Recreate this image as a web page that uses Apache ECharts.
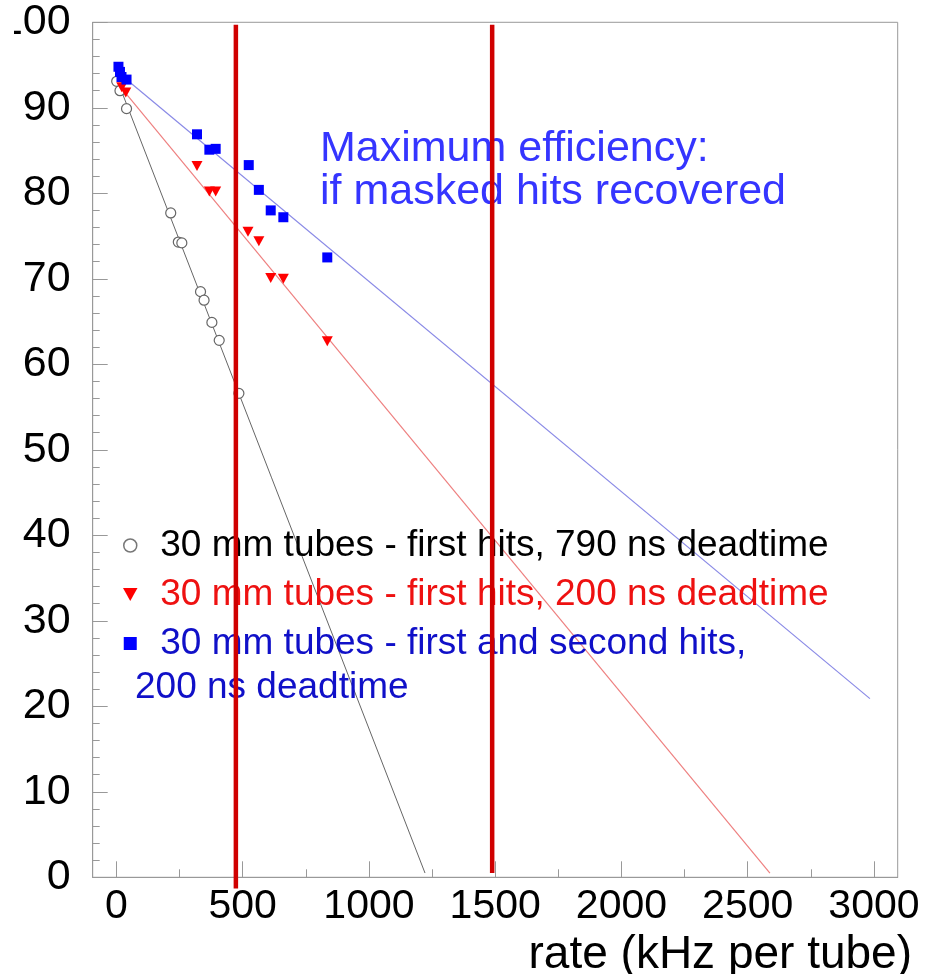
<!DOCTYPE html>
<html>
<head>
<meta charset="utf-8">
<title>Efficiency vs rate</title>
<script src="https://cdn.jsdelivr.net/npm/echarts@6/dist/echarts.min.js"></script>
<style>
  html, body { margin: 0; padding: 0; background: #fff; }
  #chart { width: 939px; height: 974px; }
</style>
</head>
<body>
<div id="chart"></div>
<script>
// Measured efficiency (%) vs rate (kHz per tube)
const rateBlack = [1, 14, 40, 215, 245, 259, 333, 347, 378, 407, 485];
const effBlack  = [93.1, 92.0, 89.9, 77.7, 74.3, 74.2, 68.5, 67.5, 64.9, 62.8, 56.6];

const rateRed = [21, 37, 319, 368, 393, 521, 564, 611, 661, 835];
const effRed  = [92.4, 91.8, 83.2, 80.2, 80.2, 75.5, 74.4, 70.1, 70.0, 62.7];

const rateBlue = [8, 14, 20, 40, 319, 368, 393, 524, 564, 611, 661, 835];
const effBlue  = [94.8, 94.2, 93.6, 93.3, 86.9, 85.1, 85.2, 83.3, 80.4, 78.0, 77.2, 72.5];

// Straight-line fits (end points)
const fitBlackRate = [5, 1222];
const fitBlackEff  = [93.1, 0.5];
const fitRedRate   = [20, 2588];
const fitRedEff    = [92.3, 0.5];
const fitBlueRate  = [40, 2984];
const fitBlueEff   = [93.3, 20.9];

// Vertical marker lines at selected rates
const cutRate   = [473, 1488];
const cutTop    = [99.7, 99.7];
const cutBottom = [-1.3, 0.5];

// Axis ticks and labels
const xMajorTicks = [0, 500, 1000, 1500, 2000, 2500, 3000];
const xMinorTicks = [250, 750, 1250, 1750, 2250, 2750];

const seriesNames = [
  '30 mm tubes - first hits, 790 ns deadtime',
  '30 mm tubes - first hits, 200 ns deadtime',
  '30 mm tubes - first and second hits,'
];
const blueNameTail = '200 ns deadtime';
const noteLines = ['Maximum efficiency:', 'if masked hits recovered'];
const xTitle = 'rate (kHz per tube)';

const FONT = '"Liberation Sans", Arial, Helvetica, sans-serif';
const zip = (xs, ys) => xs.map((x, i) => [x, ys[i]]);
const downTriangle = 'path://M0,0L10,0L5,9Z';
const square = 'path://M0,0L10,0L10,10L0,10Z';

const chart = echarts.init(document.getElementById('chart'), null, { renderer: 'canvas' });

const cutSeries = cutRate.map((r, i) => ({
  type: 'line',
  data: [[r, cutTop[i]], [r, cutBottom[i]]],
  symbol: 'none',
  clip: false,
  silent: true,
  z: 20,
  lineStyle: { color: '#d00000', width: 4.5 }
}));

const option = {
  backgroundColor: '#fff',
  animation: false,
  grid: {
    left: 92.7, right: 41.3, top: 22.3, bottom: 96.7,
    outerBoundsMode: 'none', containLabel: false,
    show: true, borderColor: '#999', borderWidth: 1, backgroundColor: 'transparent'
  },
  xAxis: [
    {
      type: 'value', min: -94, max: 3094, position: 'bottom',
      axisLine: { show: true, onZero: false, lineStyle: { color: '#999', width: 1 } },
      axisTick: { show: true, inside: true, length: 16, customValues: xMajorTicks, lineStyle: { color: '#999' } },
      axisLabel: {
        show: true, customValues: xMajorTicks, formatter: v => String(v),
        fontFamily: FONT, fontSize: 41, color: '#000', margin: 9
      },
      splitLine: { show: false }
    },
    {
      type: 'value', min: -94, max: 3094, position: 'bottom',
      axisLine: { show: false, onZero: false },
      axisTick: { show: true, inside: true, length: 8, customValues: xMinorTicks, lineStyle: { color: '#999' } },
      axisLabel: { show: false },
      splitLine: { show: false }
    }
  ],
  yAxis: {
    type: 'value', min: 0, max: 100, interval: 10,
    axisLine: { show: true, onZero: false, lineStyle: { color: '#999', width: 1 } },
    axisTick: { show: true, inside: true, length: 15, lineStyle: { color: '#999' } },
    minorTick: { show: true, splitNumber: 5, length: 7, lineStyle: { color: '#999' } },
    axisLabel: { fontFamily: FONT, fontSize: 43, color: '#000', margin: 22, formatter: v => String(v) },
    splitLine: { show: false }
  },
  legend: {
    orient: 'vertical', left: 118, top: 522,
    itemWidth: 50, itemHeight: 13, itemGap: 12,
    selectedMode: false, symbolKeepAspect: true,
    textStyle: { fontFamily: FONT, fontSize: 37, lineHeight: 37 },
    data: [
      { name: seriesNames[0], icon: 'circle', itemStyle: { color: '#fff', borderColor: '#777', borderWidth: 1.5 }, textStyle: { color: '#000' } },
      { name: seriesNames[1], icon: downTriangle, itemStyle: { color: '#ff0000' }, textStyle: { color: '#ee1111' } },
      { name: seriesNames[2], icon: square, itemStyle: { color: '#0000ff' }, textStyle: { color: '#1010c8' } }
    ]
  },
  graphic: [
    {
      type: 'text', left: 135, top: 669, z: 5,
      style: { text: blueNameTail, font: '37px ' + FONT, fill: '#1010c8' }
    },
    {
      type: 'text', x: 320, y: 128, z: 5,
      style: { text: noteLines.join('\n'), font: '43px ' + FONT, lineHeight: 43, fill: '#3535ff', verticalAlign: 'top' }
    },
    {
      type: 'text', x: 912, y: 955, z: 5,
      style: { text: xTitle, font: '46px ' + FONT, fill: '#000', align: 'right', verticalAlign: 'middle' }
    },
    {
      type: 'rect', z: 50, silent: true,
      shape: { x: 0, y: 0, width: 14, height: 60 },
      style: { fill: '#fff' }
    }
  ],
  series: [
    {
      name: 'fit black', type: 'line', data: zip(fitBlackRate, fitBlackEff),
      symbol: 'none', silent: true, z: 1,
      lineStyle: { color: '#666', width: 1 }
    },
    {
      name: 'fit red', type: 'line', data: zip(fitRedRate, fitRedEff),
      symbol: 'none', silent: true, z: 1,
      lineStyle: { color: '#ee8080', width: 1.2 }
    },
    {
      name: 'fit blue', type: 'line', data: zip(fitBlueRate, fitBlueEff),
      symbol: 'none', silent: true, z: 1,
      lineStyle: { color: '#8a8ae6', width: 1.2 }
    },
    {
      name: seriesNames[0], type: 'scatter', data: zip(rateBlack, effBlack),
      symbol: 'circle', symbolSize: 10, z: 3,
      itemStyle: { color: '#fff', borderColor: '#666', borderWidth: 1.2, opacity: 1 }
    },
    {
      name: seriesNames[1], type: 'scatter', data: zip(rateRed, effRed),
      symbol: downTriangle, symbolSize: [11, 10], z: 4,
      itemStyle: { color: '#ff0000', opacity: 1 }
    },
    {
      name: seriesNames[2], type: 'scatter', data: zip(rateBlue, effBlue),
      symbol: square, symbolSize: 10, z: 5,
      itemStyle: { color: '#0000ff', opacity: 1 }
    },
    ...cutSeries
  ]
};

chart.setOption(option);
</script>
</body>
</html>
